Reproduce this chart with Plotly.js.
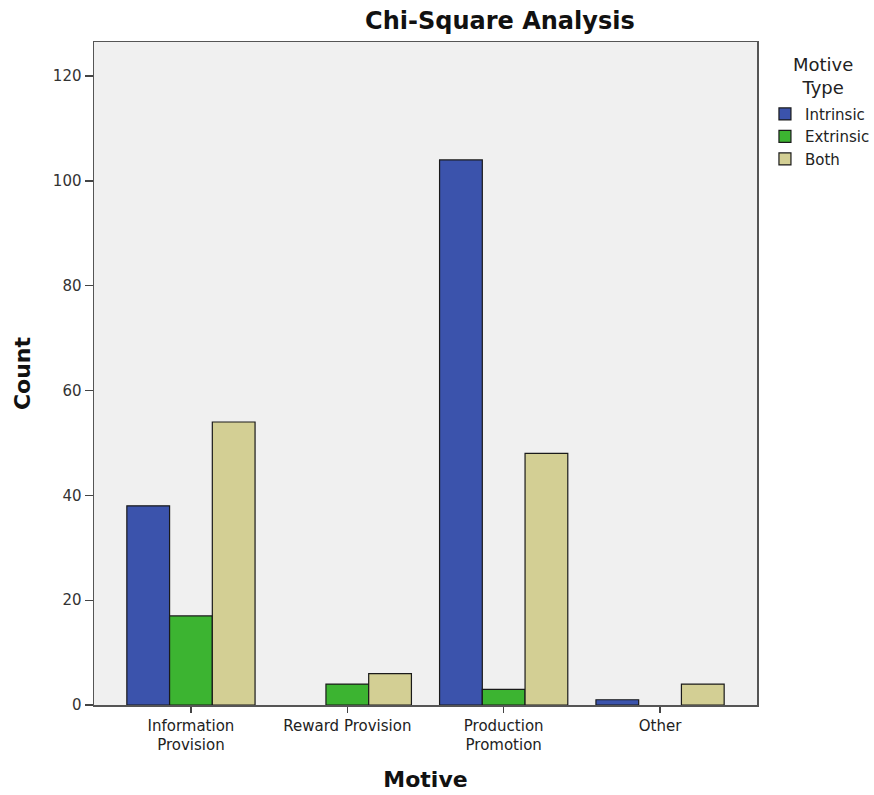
<!DOCTYPE html>
<html>
<head>
<meta charset="utf-8">
<script src="https://cdn.plot.ly/plotly-3.0.1.min.js"></script>
<style>html,body{margin:0;padding:0;background:#fff;}#chart{width:874px;height:795px;}</style>
</head>
<body>
<div id="chart"></div>
<script>
const categories = ["Information<br>Provision", "Reward Provision", "Production<br>Promotion", "Other"];
const seriesNames = ["Intrinsic", "Extrinsic", "Both"];
const intrinsic = [38, 0, 104, 1];
const extrinsic = [17, 4, 3, 0];
const both = [54, 6, 48, 4];
const yTicks = [0, 20, 40, 60, 80, 100, 120];
const colors = ["#3b53ac", "#3cb431", "#d3cf94"];

const values = [intrinsic, extrinsic, both];
const traces = values.map((v, i) => ({
  type: "bar",
  name: seriesNames[i],
  x: categories,
  y: v,
  marker: {color: colors[i], line: {color: "#1a1a1a", width: v.map(d => d === 0 ? 0 : 1.2)}},
  hoverinfo: "x+y+name"
}));

const font = "DejaVu Sans, Verdana, sans-serif";
const layout = {
  width: 874, height: 795,
  margin: {l: 94, r: 117, t: 42, b: 90, autoexpand: false},
  paper_bgcolor: "#ffffff",
  plot_bgcolor: "#f0f0f0",
  barmode: "group",
  bargap: 0.18,
  bargroupgap: 0,
  font: {family: font, color: "#222", size: 13},
  title: {text: "<b>Chi-Square Analysis</b>", font: {size: 24, family: font, color: "#111"}, x: 0.572, xanchor: "center", y: 0.985, yanchor: "top"},
  xaxis: {
    type: "category",
    range: [-0.62, 3.62],
    automargin: false,
    showline: true, linecolor: "#555", linewidth: 1.5, mirror: true,
    ticks: "outside", ticklen: 6, tickcolor: "#444", tickwidth: 1.3,
    tickfont: {size: 15, color: "#222", family: font},
    showgrid: false, zeroline: false,
    title: {text: "<b>Motive</b>", font: {size: 22, family: font, color: "#111"}, standoff: 18}
  },
  yaxis: {
    range: [0, 126.5],
    tickvals: yTicks,
    automargin: false,
    showline: true, linecolor: "#555", linewidth: 1.5, mirror: true,
    ticks: "outside", ticklen: 8, tickcolor: "#444", tickwidth: 1.3,
    tickfont: {size: 15, color: "#333", family: font},
    showgrid: false, zeroline: false,
    title: {text: "<b>Count</b>", font: {size: 22, family: font, color: "#111"}, standoff: 16}
  },
  legend: {
    x: 1.012, xanchor: "left", y: 0.916, yanchor: "top",
    xref: "paper", yref: "paper",
    bgcolor: "rgba(0,0,0,0)",
    font: {size: 15, family: font, color: "#222"},
    tracegroupgap: 0,
    itemwidth: 30
  },
  annotations: [{
    text: "Motive<br>Type", xref: "paper", yref: "paper",
    x: 1.0995, y: 0.985, xanchor: "center", yanchor: "top",
    showarrow: false, align: "center",
    font: {size: 18, family: font, color: "#222"}
  }],
  showlegend: true
};

Plotly.newPlot("chart", traces, layout, {displayModeBar: false, staticPlot: true});
</script>
</body>
</html>
